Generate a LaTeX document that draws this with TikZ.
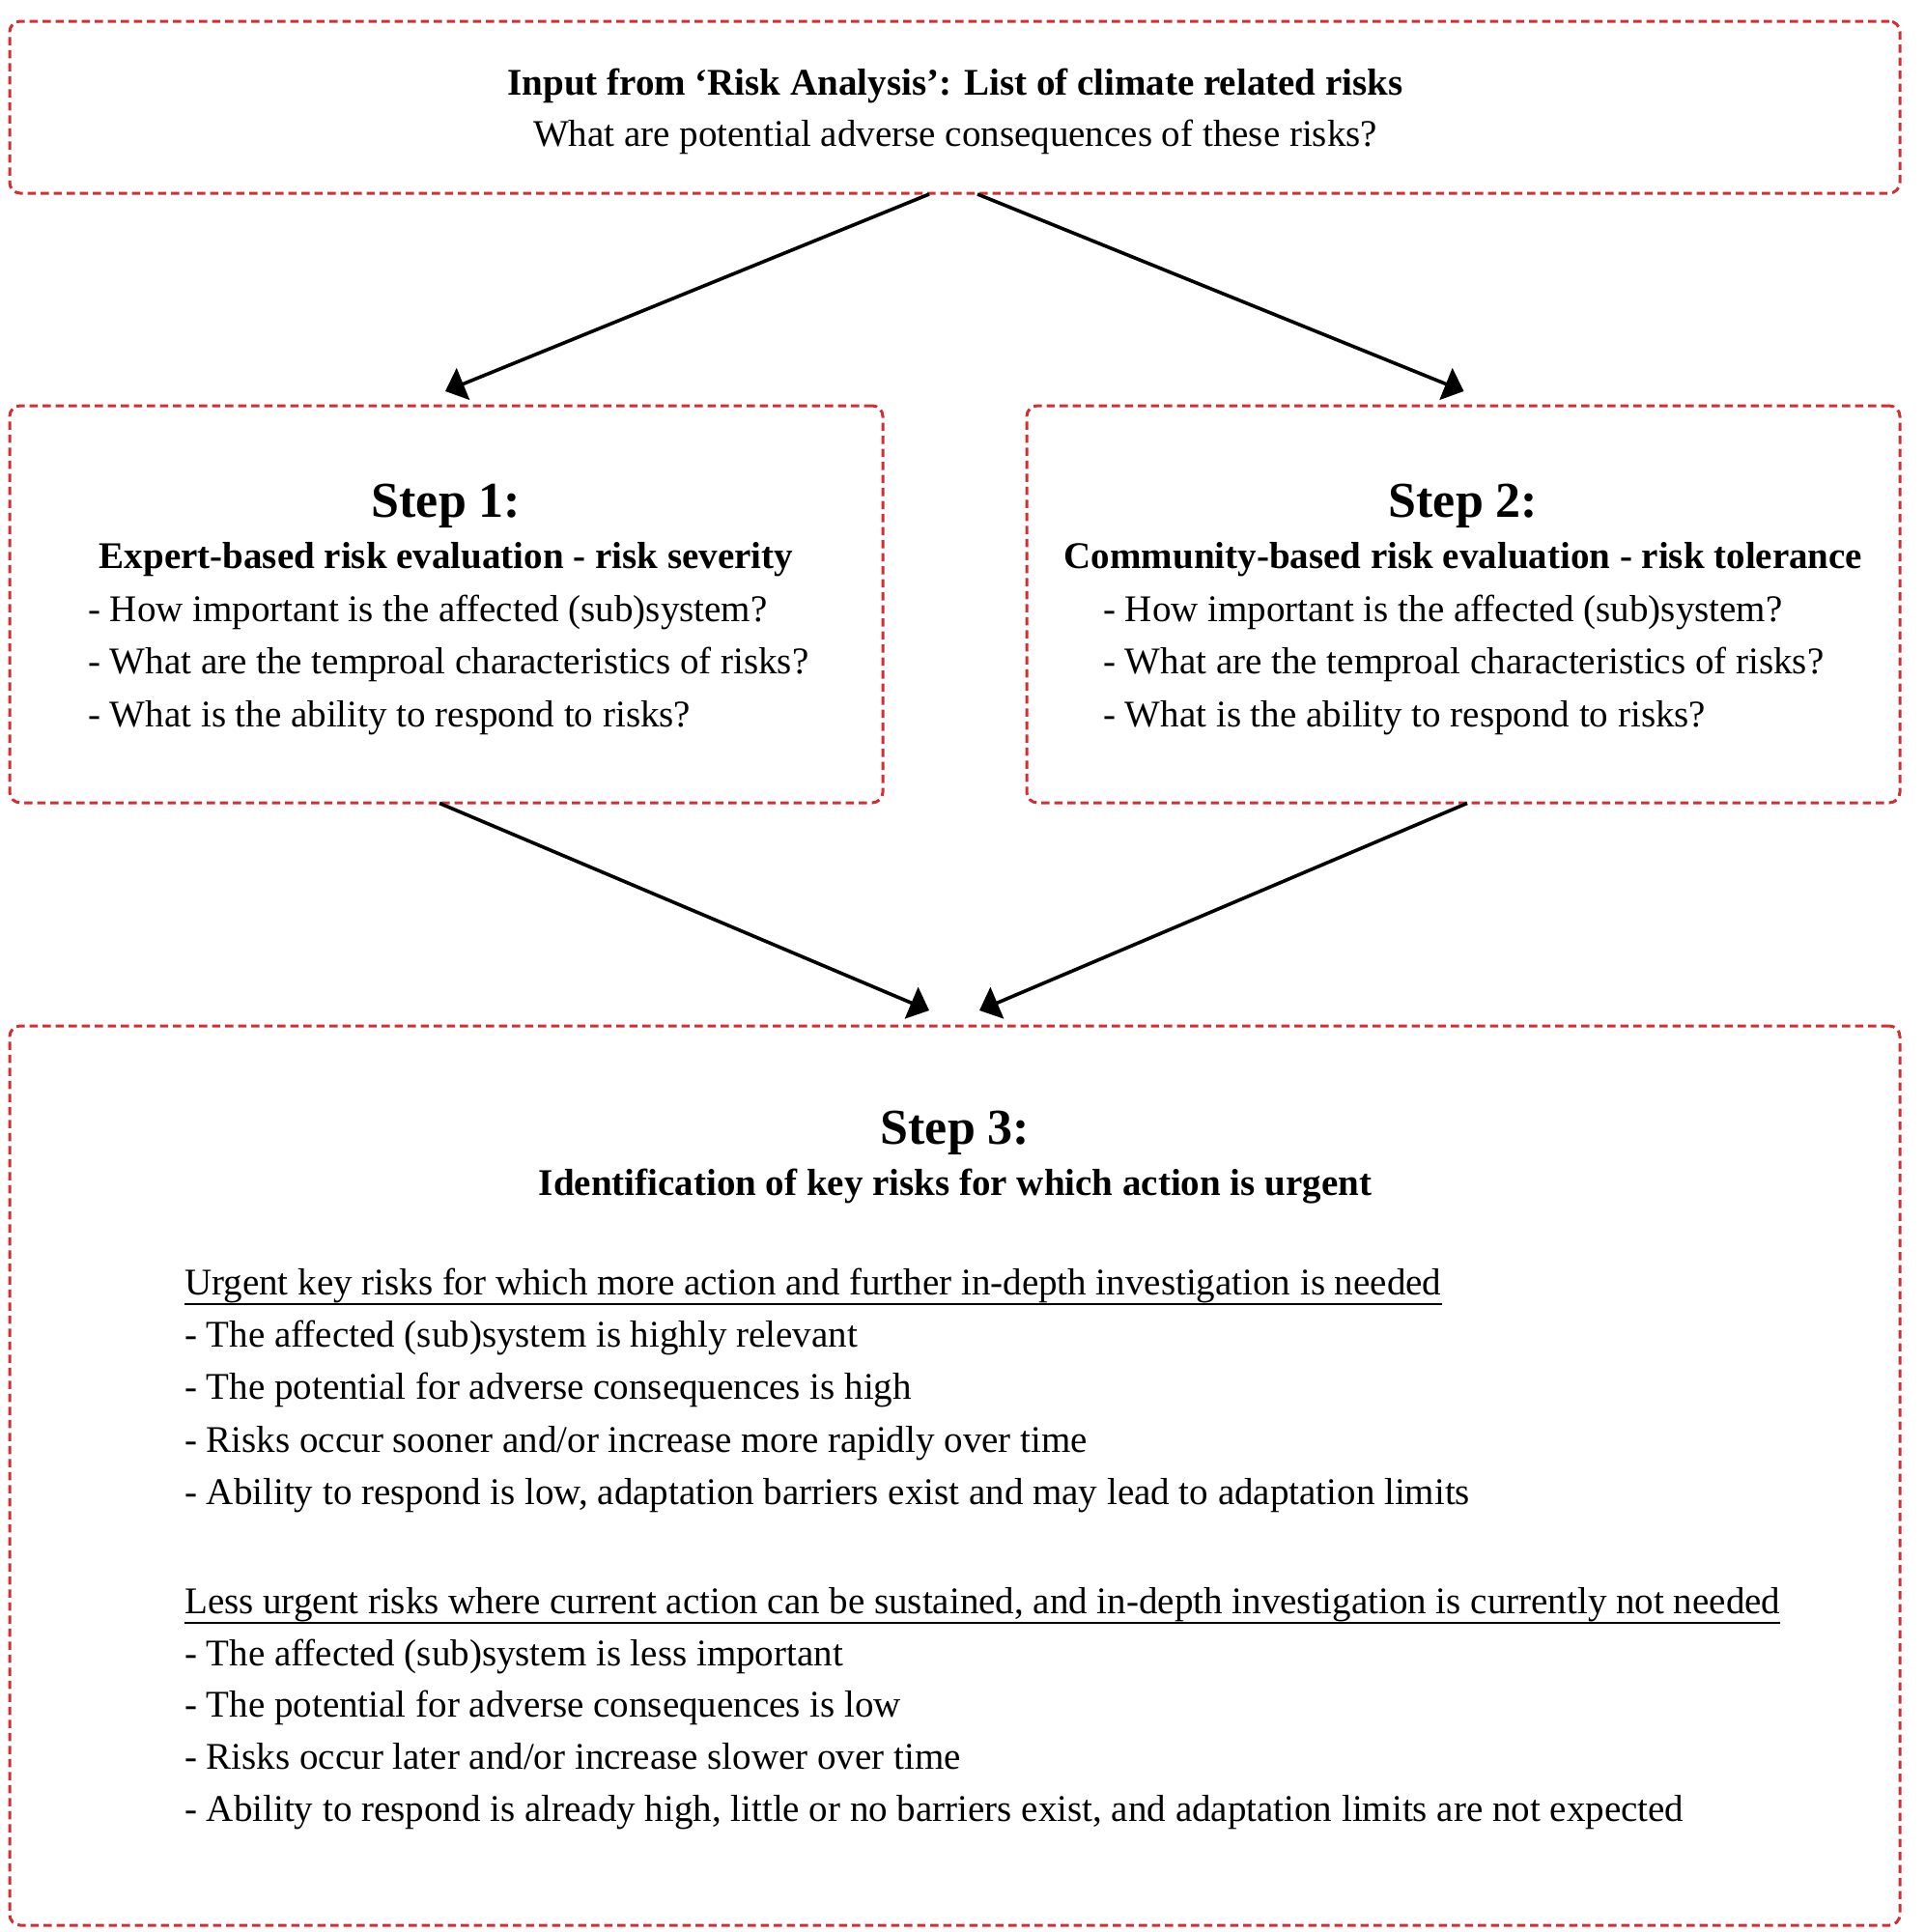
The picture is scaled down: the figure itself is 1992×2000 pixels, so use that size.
\documentclass[tikz,border=0pt]{standalone}
\usepackage{fontspec}
\setmainfont{Liberation Serif}
\usetikzlibrary{arrows.meta}
\definecolor{boxred}{RGB}{212,46,52}
\begin{document}
\begin{tikzpicture}[x=1pt,y=-1pt,
  box/.style={draw=boxred, line width=3pt, dash pattern=on 8.5pt off 5pt,
              rounded corners=11pt, inner sep=0pt, outer sep=0pt},
  arr/.style={-{Triangle[length=20pt,width=35pt]}, line width=3.6pt, black},
  uline/.style={line width=2.4pt, black},
  body/.style={font=\fontsize{39}{54}\selectfont, inner sep=0pt, anchor=base},
  bodyl/.style={body, anchor=base west},
  bold/.style={font=\fontsize{39}{54}\selectfont\bfseries, inner sep=0pt, anchor=base},
  ttl/.style={font=\fontsize{52}{60}\selectfont\bfseries, inner sep=0pt, anchor=base}]
\useasboundingbox (0,0) rectangle (1992,2000);

% boxes
\node[box, minimum width=1957pt, minimum height=178pt] (top) at (988.5,111) {};
\node[box, minimum width=904pt, minimum height=411pt] (s1) at (462,625.5) {};
\node[box, minimum width=904pt, minimum height=411pt] (s2) at (1515,625.5) {};
\node[box, minimum width=1957pt, minimum height=931pt] (s3) at (988.5,1527.5) {};

% top texts
\node[bold] (t1) at (989,98) {Input from ‘Risk Analysis’: List of climate related risks};
\node[body] (t2) at (989,151) {What are potential adverse consequences of these risks?};

% step 1
\node[ttl] (s1t) at (462,535) {Step 1:};
\node[bold] (s1s) at (462,588) {Expert-based risk evaluation - risk severity};
\node[bodyl] (s1a) at (91,643) {- How important is the affected (sub)system?};
\node[bodyl] (s1b) at (91,697) {- What are the temproal characteristics of risks?};
\node[bodyl] (s1c) at (91,752) {- What is the ability to respond to risks?};

% step 2
\node[ttl] (s2t) at (1515,535) {Step 2:};
\node[bold] (s2s) at (1515,588) {Community-based risk evaluation - risk tolerance};
\node[bodyl] (s2a) at (1142,643) {- How important is the affected (sub)system?};
\node[bodyl] (s2b) at (1142,697) {- What are the temproal characteristics of risks?};
\node[bodyl] (s2c) at (1142,752) {- What is the ability to respond to risks?};

% step 3
\node[ttl] (s3t) at (989,1184) {Step 3:};
\node[bold] (s3s) at (989,1237) {Identification of key risks for which action is urgent};
\node[bodyl] (h1) at (191,1340) {Urgent key risks for which more action and further in-depth investigation is needed};
\node[bodyl] (h1a) at (191,1394) {- The affected (sub)system is highly relevant};
\node[bodyl] (h1b) at (191,1448) {- The potential for adverse consequences is high};
\node[bodyl] (h1c) at (191,1503) {- Risks occur sooner and/or increase more rapidly over time};
\node[bodyl] (h1d) at (191,1557) {- Ability to respond is low, adaptation barriers exist and may lead to adaptation limits};
\node[bodyl] (h2) at (191,1670) {Less urgent risks where current action can be sustained, and in-depth investigation is currently not needed};
\node[bodyl] (h2a) at (191,1724) {- The affected (sub)system is less important};
\node[bodyl] (h2b) at (191,1777) {- The potential for adverse consequences is low};
\node[bodyl] (h2c) at (191,1831) {- Risks occur later and/or increase slower over time};
\node[bodyl] (h2d) at (191,1885) {- Ability to respond is already high, little or no barriers exist, and adaptation limits are not expected};

% underlines of the two headings
\draw[uline] ([yshift=-10pt]h1.base west) -- ([yshift=-10pt]h1.base east);
\draw[uline] ([yshift=-10pt]h2.base west) -- ([yshift=-10pt]h2.base east);

% connectors
\draw[arr] ([xshift=-26.5pt,yshift=-1pt]top.south) -- ([xshift=-1pt,yshift=15pt]s1.north);
\draw[arr] ([xshift=23.5pt,yshift=-1pt]top.south) -- ([xshift=0.5pt,yshift=15pt]s2.north);
\draw[arr] ([xshift=-7pt,yshift=-0.5pt]s1.south) -- ([xshift=-26.5pt,yshift=16pt]s3.north);
\draw[arr] ([xshift=4pt,yshift=-0.5pt]s2.south) -- ([xshift=25.5pt,yshift=16pt]s3.north);
\end{tikzpicture}
\end{document}
